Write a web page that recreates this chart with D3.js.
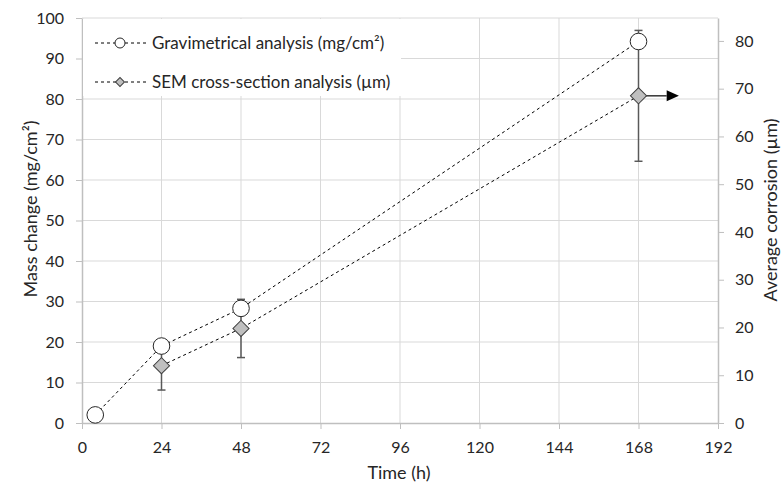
<!DOCTYPE html>
<html>
<head>
<meta charset="utf-8">
<script src="https://cdn.jsdelivr.net/npm/d3@7"></script>
<style>
  body { margin: 0; background: #fff; }
  text { font-family: Lato, "Open Sans", sans-serif; fill: #262626; }
</style>
</head>
<body>
<script>
  // Data
  const gravTime = [4, 24, 48, 168];
  const gravMass = [2.0, 19.0, 28.3, 94.2];

  const semTime = [24, 48, 168];
  const semDepth = [12.0, 19.8, 68.5];
  const semErr = [5.1, 6.1, 13.7];

  const xTicks = [0, 24, 48, 72, 96, 120, 144, 168, 192];
  const yLeftTicks = [0, 10, 20, 30, 40, 50, 60, 70, 80, 90, 100];
  const yRightTicks = [0, 10, 20, 30, 40, 50, 60, 70, 80];

  const width = 783;
  const height = 487;
  const margin = { top: 18, right: 65, bottom: 64, left: 82 };

  const svg = d3.select('body')
    .append('svg')
    .attr('width', width)
    .attr('height', height);

  const x = d3.scaleLinear().domain([0, 192]).range([margin.left, width - margin.right]);
  const y = d3.scaleLinear().domain([0, 100]).range([height - margin.bottom, margin.top]);
  const y2 = d3.scaleLinear().domain([0, 84.8]).range([height - margin.bottom, margin.top]);

  // Gridlines
  svg.append('g')
    .selectAll('line')
    .data(yLeftTicks.slice(1))
    .enter()
    .append('line')
    .attr('x1', x(0)).attr('x2', x(192))
    .attr('y1', d => y(d)).attr('y2', d => y(d))
    .attr('stroke', '#d9d9d9');

  svg.append('g')
    .selectAll('line')
    .data(xTicks.slice(1, -1))
    .enter()
    .append('line')
    .attr('x1', d => x(d)).attr('x2', d => x(d))
    .attr('y1', y(0)).attr('y2', y(100))
    .attr('stroke', '#d9d9d9');

  // Axes
  const axisColor = '#bfbfbf';
  const xAxis = svg.append('g')
    .attr('transform', `translate(0, ${y(0)})`)
    .call(d3.axisBottom(x).tickValues(xTicks).tickSizeInner(6).tickSizeOuter(0).tickPadding(13));
  const yAxis = svg.append('g')
    .attr('transform', `translate(${x(0)}, 0)`)
    .call(d3.axisLeft(y).tickValues(yLeftTicks).tickSizeInner(6).tickSizeOuter(0).tickPadding(12));
  const yAxis2 = svg.append('g')
    .attr('transform', `translate(${x(192)}, 0)`)
    .call(d3.axisRight(y2).tickValues(yRightTicks).tickSizeInner(6).tickSizeOuter(0).tickPadding(11));

  [xAxis, yAxis, yAxis2].forEach(a => {
    a.select('.domain').attr('stroke', axisColor).attr('stroke-width', 1.5);
    a.selectAll('.tick line').attr('stroke', axisColor);
    a.selectAll('.tick text').style('font-size', '16px').attr('fill', '#262626');
  });

  // Axis titles
  svg.append('text')
    .attr('x', 399)
    .attr('y', 479)
    .attr('text-anchor', 'middle')
    .style('font-size', '18px')
    .text('Time (h)');

  svg.append('text')
    .attr('transform', 'translate(37, 209) rotate(-90)')
    .attr('text-anchor', 'middle')
    .style('font-size', '18px')
    .text('Mass change (mg/cm²)');

  svg.append('text')
    .attr('transform', 'translate(777, 210) rotate(-90)')
    .attr('text-anchor', 'middle')
    .style('font-size', '18px')
    .text('Average corrosion (µm)');

  // Series lines
  const gravData = gravTime.map((t, i) => ({ t, v: gravMass[i] }));
  const semData = semTime.map((t, i) => ({ t, v: semDepth[i], e: semErr[i] }));

  svg.append('path')
    .datum(gravData)
    .attr('fill', 'none')
    .attr('stroke', '#000')
    .attr('stroke-width', 1)
    .attr('stroke-dasharray', '3,3')
    .attr('d', d3.line().x(d => x(d.t)).y(d => y(d.v)));

  svg.append('path')
    .datum(semData)
    .attr('fill', 'none')
    .attr('stroke', '#000')
    .attr('stroke-width', 1)
    .attr('stroke-dasharray', '3,3')
    .attr('d', d3.line().x(d => x(d.t)).y(d => y2(d.v)));

  // SEM error bars
  const errColor = '#595959';
  const eb = svg.append('g').selectAll('g').data(semData).enter().append('g');
  eb.append('line')
    .attr('x1', d => x(d.t)).attr('x2', d => x(d.t))
    .attr('y1', d => y2(d.v - d.e)).attr('y2', d => y2(d.v + d.e))
    .attr('stroke', errColor).attr('stroke-width', 1.5);
  [-1, 1].forEach(s => {
    eb.append('line')
      .attr('x1', d => x(d.t) - 4).attr('x2', d => x(d.t) + 4)
      .attr('y1', d => y2(d.v + s * d.e)).attr('y2', d => y2(d.v + s * d.e))
      .attr('stroke', errColor).attr('stroke-width', 1.5);
  });

  // Arrow from last SEM point pointing to the right axis
  const last = semData[semData.length - 1];
  svg.append('line')
    .attr('x1', x(last.t)).attr('x2', x(176.5))
    .attr('y1', y2(last.v)).attr('y2', y2(last.v))
    .attr('stroke', '#000').attr('stroke-width', 1.2);
  svg.append('path')
    .attr('d', `M${x(176.5)},${y2(last.v) - 5.5}L${x(180.2)},${y2(last.v)}L${x(176.5)},${y2(last.v) + 5.5}Z`)
    .attr('fill', '#000');

  // Markers
  svg.append('g')
    .selectAll('circle')
    .data(gravData)
    .enter()
    .append('circle')
    .attr('cx', d => x(d.t))
    .attr('cy', d => y(d.v))
    .attr('r', 8.3)
    .attr('fill', '#fff')
    .attr('stroke', '#262626')
    .attr('stroke-width', 1);

  const diamond = d3.symbol().type(d3.symbolSquare).size(130);
  svg.append('g')
    .selectAll('path')
    .data(semData)
    .enter()
    .append('path')
    .attr('transform', d => `translate(${x(d.t)}, ${y2(d.v)}) rotate(45)`)
    .attr('d', diamond)
    .attr('fill', '#bfbfbf')
    .attr('stroke', '#404040')
    .attr('stroke-width', 1);

  // Legend
  const leg = svg.append('g').attr('transform', `translate(${x(0) + 1}, ${y(100) + 1})`);
  leg.append('rect')
    .attr('width', 318).attr('height', 77)
    .attr('fill', '#fff');

  const legItems = [
    { label: 'Gravimetrical analysis (mg/cm²)', type: 'circle', yy: 24 },
    { label: 'SEM cross-section analysis (µm)', type: 'diamond', yy: 63 }
  ];
  legItems.forEach(it => {
    leg.append('line')
      .attr('x1', 12).attr('x2', 65)
      .attr('y1', it.yy).attr('y2', it.yy)
      .attr('stroke', '#000').attr('stroke-dasharray', '3,3');
    if (it.type === 'circle') {
      leg.append('circle')
        .attr('cx', 37).attr('cy', it.yy).attr('r', 5)
        .attr('fill', '#fff').attr('stroke', '#262626');
    } else {
      leg.append('path')
        .attr('transform', `translate(37, ${it.yy}) rotate(45)`)
        .attr('d', d3.symbol().type(d3.symbolSquare).size(40))
        .attr('fill', '#bfbfbf').attr('stroke', '#404040');
    }
    leg.append('text')
      .attr('x', 69)
      .attr('y', it.yy)
      .attr('dy', '0.35em')
      .style('font-size', '17px')
      .text(it.label);
  });
</script>
</body>
</html>
